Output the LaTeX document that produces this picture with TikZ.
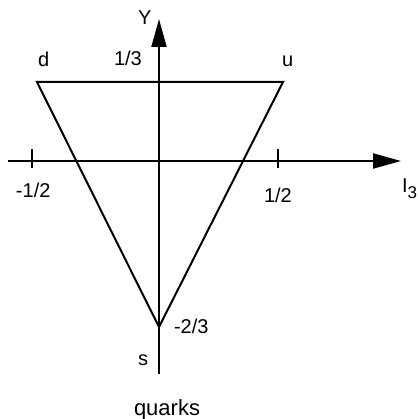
\documentclass[tikz,border=0pt]{standalone}
\usepackage{fontspec}
\setmainfont{Liberation Sans}
\usetikzlibrary{arrows.meta}
\begin{document}
\begin{tikzpicture}[
  x=1pt, y=-1pt,
  line width=2pt,
  lbl/.style={anchor=base west, inner sep=0pt, font=\fontsize{20}{24}\selectfont},
  axis/.style={-{Triangle[length=28pt,width=15pt]}},
  tick/.style={line width=2pt}
]
\useasboundingbox (0,0) rectangle (418,419);
% axes
\coordinate (xstart) at (8,161);
\coordinate (xend) at (401,161);
\coordinate (ystart) at (159,374);
\coordinate (yend) at (159,19);
\draw[axis] (xstart) -- (xend);
\draw[axis] (ystart) -- (yend);
% ticks at -1/2 and 1/2
\coordinate (tlt) at (32,149);
\coordinate (tlb) at (32,168);
\coordinate (trt) at (278,149);
\coordinate (trb) at (278,168);
\draw[tick] (tlt) -- (tlb);
\draw[tick] (trt) -- (trb);
% quark triangle
\coordinate (dq) at (37,82);
\coordinate (uq) at (283,82);
\coordinate (sq) at (159,327);
\draw[line join=miter] (dq) -- (uq) -- (sq) -- cycle;
% labels
\node[lbl] (ylab) at (137,25) {Y};
\node[lbl] (dlab) at (37,67) {d};
\node[lbl] (third) at (113,66) {1/3};
\node[lbl] (ulab) at (281,67) {u};
\node[lbl] (mhalf) at (15,197) {-1/2};
\node[lbl] (phalf) at (263,203) {1/2};
\node[lbl] (ilab) at (401,193) {I\raisebox{-6pt}{\fontsize{17}{20}\selectfont 3}};
\node[lbl] (mtwo) at (173,333) {-2/3};
\node[lbl] (slab) at (137,365) {s};
\node[lbl, font=\fontsize{22}{26}\selectfont] (title) at (133,415) {quarks};
\end{tikzpicture}
\end{document}
